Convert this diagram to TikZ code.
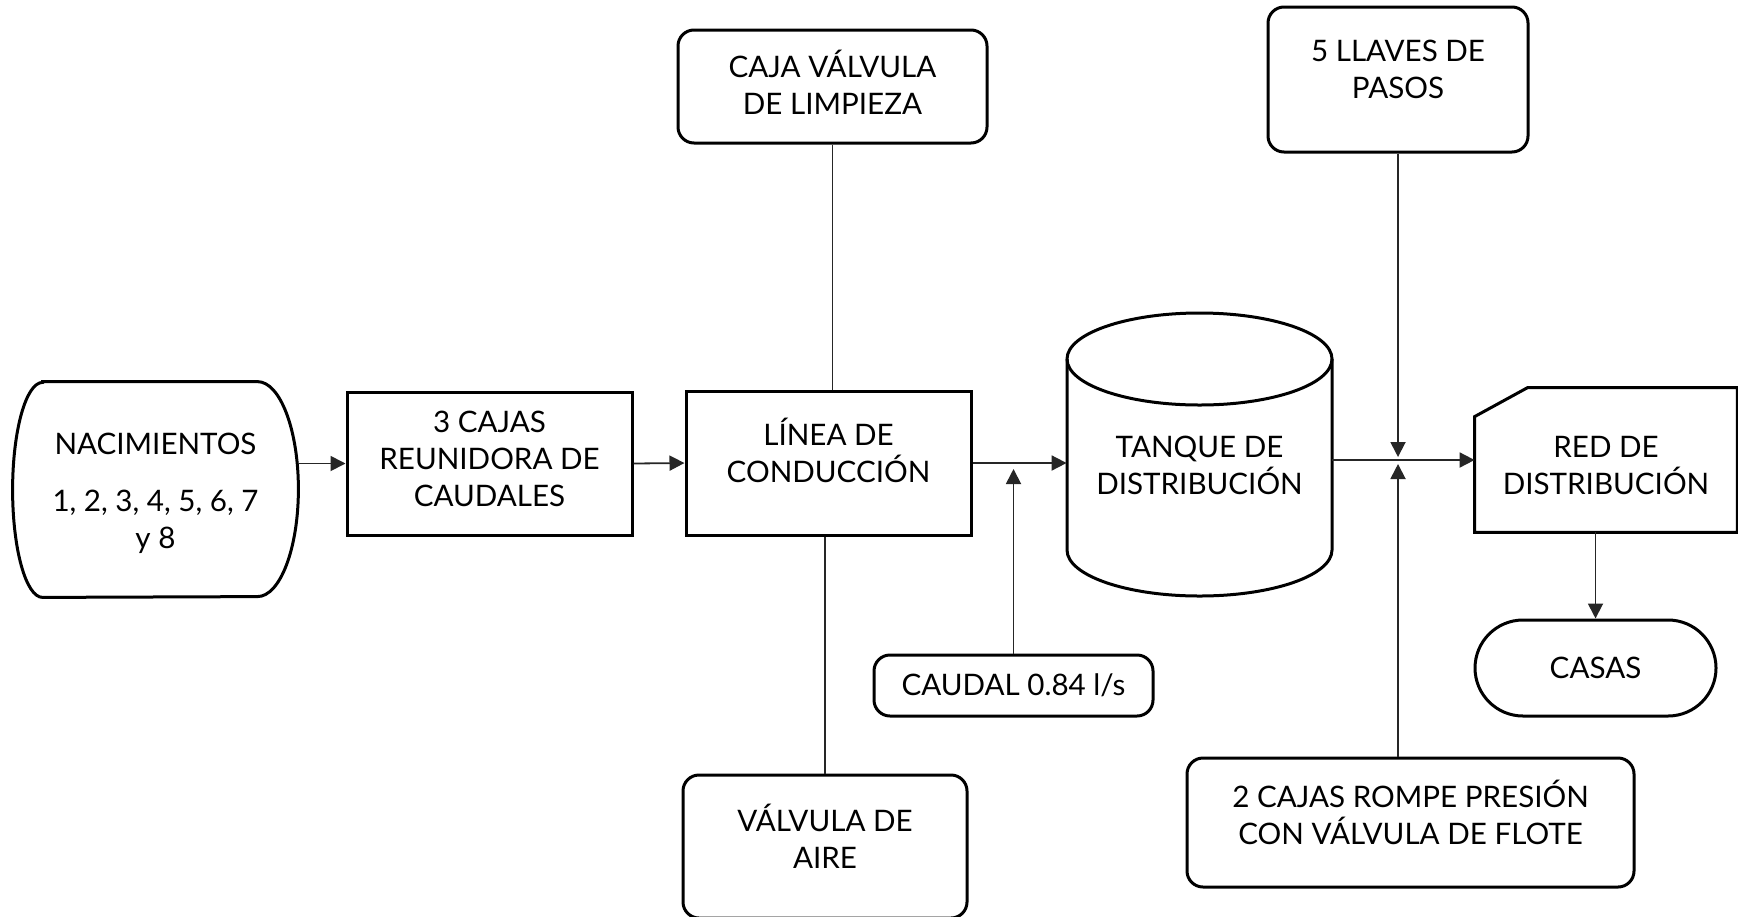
\documentclass[tikz,border=0pt]{standalone}
\usepackage{fontspec}
\setmainfont{Lato}
\usetikzlibrary{arrows.meta}

\tikzset{
  boxtext/.style={align=center,inner sep=0pt,font=\fontsize{14.8pt}{18.5pt}\selectfont},
  box/.style={boxtext,draw,line width=1.5pt},
  roundbox/.style={box,rounded corners=8pt},
  outline/.style={line width=1.5pt},
  link/.style={line width=0.9pt,draw=black!85},
  flow/.style={link,-{Triangle[length=7.5pt,width=7.5pt]}}
}

\begin{document}
\begin{tikzpicture}[x=0.5pt,y=-0.5pt]
\useasboundingbox (0,0) rectangle (1738,916);
% nacimientos
\node[boxtext,minimum width=142.5pt,minimum height=107.5pt,text height=62pt] (nac) at (155.5,489.5) {NACIMIENTOS\\[10pt]1, 2, 3, 4, 5, 6, 7\\y 8};
\draw[outline] ([xshift=15pt]nac.north west) -- ([xshift=-20.5pt]nac.north east)
  arc[start angle=90,end angle=-90,x radius=20.5pt,y radius=53.75pt]
  -- ([xshift=15pt]nac.south west)
  arc[start angle=270,end angle=90,x radius=15pt,y radius=53.75pt] -- cycle;
\node[box,minimum width=142.5pt,minimum height=71.5pt,text depth=5pt] (cajas) at (489.5,463.5) {3 CAJAS\\REUNIDORA DE\\CAUDALES};
\node[box,minimum width=142.5pt,minimum height=72pt,text depth=13pt] (linea) at (828.5,463) {LÍNEA DE\\CONDUCCIÓN};
\node[roundbox,minimum width=154.5pt,minimum height=56.5pt,text depth=4pt] (limpieza) at (832.5,86.5) {CAJA VÁLVULA\\DE LIMPIEZA};
\node[roundbox,minimum width=142pt,minimum height=71.5pt,text depth=10pt] (aire) at (825,846.5) {VÁLVULA DE\\AIRE};
\node[roundbox,minimum width=139.5pt,minimum height=30.5pt] (caudal) at (1013.5,685.5) {CAUDAL 0.84 l/s};
% tanque
\node[boxtext,minimum width=132.5pt] (tank) at (1199.5,465.5) {TANQUE DE\\DISTRIBUCIÓN};
\draw[outline] (1067,359) -- (1067,550) arc[start angle=180,end angle=360,x radius=66.25pt,y radius=23pt] -- (1332,359);
\draw[outline] (1199.5,359) ellipse[x radius=66.25pt,y radius=23pt];
\node[roundbox,minimum width=130pt,minimum height=72.5pt,text depth=10pt] (llaves) at (1398,79.5) {5 LLAVES DE\\PASOS};
\node[roundbox,minimum width=223.5pt,minimum height=64.5pt,text depth=10pt] (rompe) at (1410.5,822.5) {2 CAJAS ROMPE PRESIÓN\\CON VÁLVULA DE FLOTE};
% red
\node[boxtext,minimum width=131pt,minimum height=72pt,text height=35pt] (red) at (1606,460) {RED DE\\DISTRIBUCIÓN};
\draw[outline] (red.south west) -- ([yshift=-14.5pt]red.north west) -- ([xshift=26.5pt]red.north west)
  -- (red.north east) -- (red.south east) -- cycle;
\node[box,rounded corners=24pt,minimum width=120.5pt,minimum height=48pt] (casas) at (1595.5,668) {CASAS};
% connectors
\draw[flow] (nac.east |- cajas.west) -- (cajas.west);
\draw[flow] (cajas.east) -- (linea.west);
\draw[flow] (linea.east) -- (linea.east -| tank.west);
\coordinate (j1) at (caudal.north |- linea.east);
\draw[flow] (caudal.north) -- ([yshift=-3pt]j1);
\draw[link] (limpieza.south) -- (limpieza.south |- linea.north);
\draw[link] (aire.north) -- (aire.north |- linea.south);
\draw[flow] (tank.east |- red.west) -- (red.west);
\coordinate (j2) at (llaves.south |- red.west);
\draw[flow] (llaves.south) -- ([yshift=1.5pt]j2);
\draw[flow] (rompe.north -| llaves.south) -- ([yshift=-2pt]j2);
\draw[flow] (casas.north |- red.south) -- (casas.north);
\end{tikzpicture}
\end{document}
